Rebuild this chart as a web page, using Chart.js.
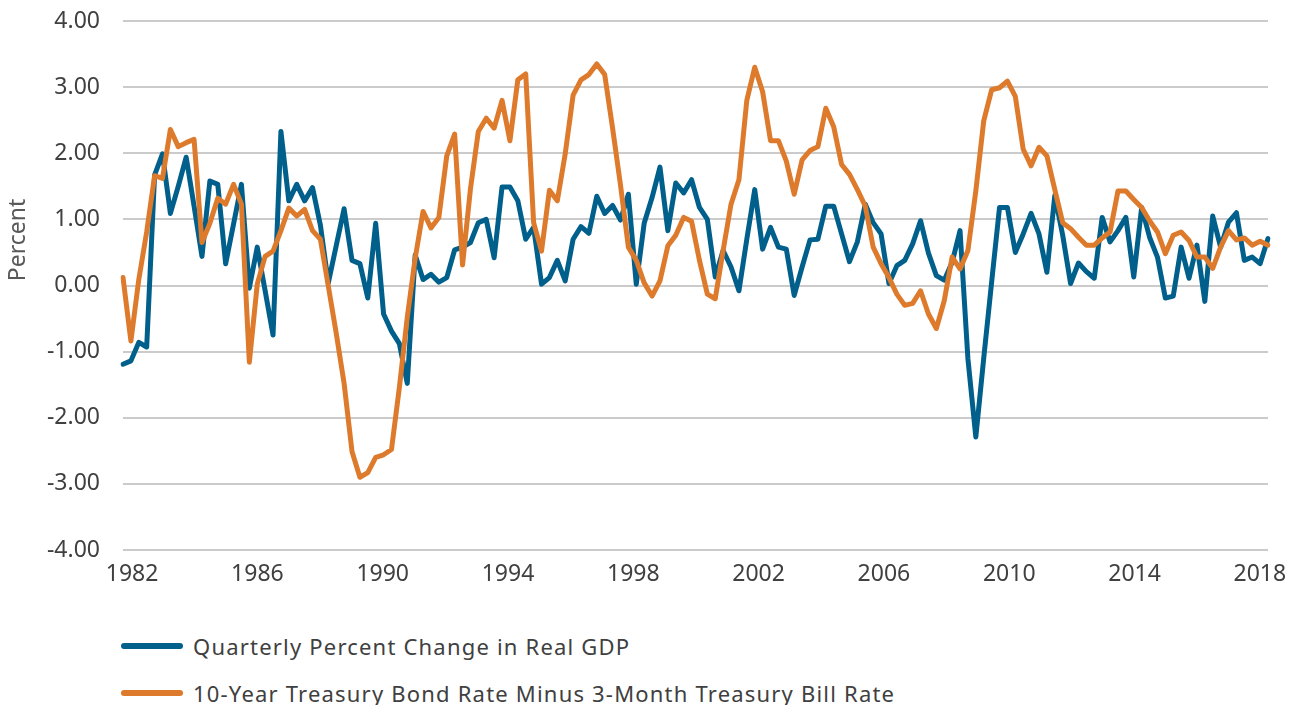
<!DOCTYPE html>
<html>
<head>
<meta charset="utf-8">
<title>Real GDP change vs yield spread</title>
<script src="https://cdn.jsdelivr.net/npm/chart.js@4.4.1/dist/chart.umd.min.js"></script>
<style>
  html, body { margin: 0; padding: 0; background: #ffffff; }
  #wrap { position: relative; width: 1299px; height: 705px; font-family: 'Noto Sans', sans-serif; }
  #chart { position: absolute; left: 0; top: 0; }
  .legend-item { position: absolute; left: 121px; display: flex; align-items: center; color: #404040; font-size: 22px; letter-spacing: 1.2px; line-height: 26px; white-space: nowrap; }
  .legend-item .swatch { width: 62px; height: 6px; border-radius: 3px; margin-right: 10px; }
</style>
</head>
<body>
<div id="wrap">
  <canvas id="chart" width="1299" height="600"></canvas>
  <div id="legend"></div>
</div>
<script>
// Quarterly percent change in real GDP, 1982 Q1 .. 2018 Q2
const gdpChange = [
  -1.19, -1.14, -0.86, -0.93, 1.67, 1.99, 1.09, 1.50, 1.94, 1.20,
  0.44, 1.58, 1.53, 0.33, 0.93, 1.53, -0.04, 0.58, -0.08, -0.75,
  2.33, 1.28, 1.53, 1.28, 1.48, 0.91, 0.04, 0.60, 1.16, 0.38,
  0.33, -0.19, 0.94, -0.43, -0.69, -0.88, -1.48, 0.46, 0.09, 0.17,
  0.05, 0.12, 0.54, 0.58, 0.65, 0.95, 1.00, 0.42, 1.49, 1.49,
  1.28, 0.70, 0.88, 0.02, 0.12, 0.38, 0.07, 0.70, 0.89, 0.79,
  1.35, 1.09, 1.21, 0.99, 1.38, 0.02, 0.94, 1.33, 1.79, 0.83,
  1.55, 1.40, 1.60, 1.18, 1.00, 0.13, 0.53, 0.28, -0.08, 0.70,
  1.45, 0.55, 0.88, 0.58, 0.55, -0.15, 0.28, 0.69, 0.70, 1.20,
  1.20, 0.78, 0.36, 0.66, 1.23, 0.95, 0.78, 0.03, 0.30, 0.38,
  0.63, 0.98, 0.49, 0.15, 0.08, 0.35, 0.83, -1.11, -2.29, -1.10,
  0.05, 1.18, 1.18, 0.50, 0.78, 1.09, 0.78, 0.20, 1.36, 0.76,
  0.03, 0.34, 0.21, 0.11, 1.03, 0.66, 0.83, 1.03, 0.13, 1.18,
  0.73, 0.43, -0.19, -0.16, 0.58, 0.11, 0.61, -0.24, 1.05, 0.58,
  0.96, 1.10, 0.38, 0.43, 0.33, 0.71
];

// 10-year bond rate minus 3-month bill rate
const yieldSpread = [
  0.12, -0.84, 0.09, 0.81, 1.66, 1.62, 2.36, 2.10, 2.16, 2.21,
  0.65, 0.94, 1.32, 1.23, 1.53, 1.23, -1.16, 0.02, 0.44, 0.52,
  0.83, 1.17, 1.05, 1.15, 0.83, 0.70, -0.01, -0.72, -1.48, -2.51,
  -2.90, -2.83, -2.60, -2.56, -2.48, -1.54, -0.48, 0.41, 1.12, 0.87,
  1.03, 1.96, 2.29, 0.31, 1.46, 2.33, 2.53, 2.38, 2.80, 2.19,
  3.11, 3.20, 0.95, 0.52, 1.44, 1.28, 1.99, 2.88, 3.11, 3.19,
  3.35, 3.19, 2.38, 1.52, 0.58, 0.38, 0.04, -0.16, 0.07, 0.60,
  0.76, 1.03, 0.97, 0.38, -0.13, -0.20, 0.53, 1.23, 1.60, 2.80,
  3.30, 2.93, 2.19, 2.19, 1.88, 1.38, 1.90, 2.04, 2.10, 2.68,
  2.40, 1.83, 1.68, 1.45, 1.20, 0.58, 0.33, 0.12, -0.13, -0.30,
  -0.27, -0.08, -0.43, -0.65, -0.23, 0.43, 0.25, 0.53, 1.43, 2.49,
  2.96, 2.99, 3.09, 2.86, 2.06, 1.81, 2.09, 1.96, 1.45, 0.95,
  0.86, 0.73, 0.61, 0.61, 0.72, 0.81, 1.43, 1.43, 1.30, 1.18,
  0.98, 0.81, 0.48, 0.76, 0.81, 0.68, 0.43, 0.43, 0.26, 0.58,
  0.83, 0.69, 0.72, 0.61, 0.67, 0.61
];

const yearLabels = ['1982', '1986', '1990', '1994', '1998', '2002', '2006', '2010', '2014', '2018'];
const seriesNames = [
  'Quarterly Percent Change in Real GDP',
  '10-Year Treasury Bond Rate Minus 3-Month Treasury Bill Rate'
];

const colors = {
  gdp: '#005f8b',
  spread: '#dd7a2b',
  grid: '#cbcbcb',
  text: '#404040',
  title: '#595959'
};

// one category per quarter
const quarters = [];
for (let i = 0; i < gdpChange.length; i++) {
  quarters.push((1982 + Math.floor(i / 4)) + ' Q' + (i % 4 + 1));
}

const fontFamily = "'Noto Sans', sans-serif";

// axis title sits a bit above the middle of the plot, like the original
const sideTitle = {
  id: 'sideTitle',
  afterDraw(chart) {
    const ctx = chart.ctx;
    ctx.save();
    ctx.translate(18, 240);
    ctx.rotate(-Math.PI / 2);
    ctx.fillStyle = colors.title;
    ctx.font = '23px ' + fontFamily;
    ctx.textAlign = 'center';
    ctx.textBaseline = 'middle';
    ctx.fillText('Percent', 0, 0);
    ctx.restore();
  }
};

const chart = new Chart(document.getElementById('chart').getContext('2d'), {
  type: 'line',
  data: {
    labels: quarters,
    datasets: [
      {
        label: seriesNames[0],
        data: gdpChange,
        borderColor: colors.gdp,
        borderWidth: 5,
        pointRadius: 0,
        tension: 0,
        borderCapStyle: 'round',
        borderJoinStyle: 'round',
        order: 2
      },
      {
        label: seriesNames[1],
        data: yieldSpread,
        borderColor: colors.spread,
        borderWidth: 5,
        pointRadius: 0,
        tension: 0,
        borderCapStyle: 'round',
        borderJoinStyle: 'round',
        order: 1
      }
    ]
  },
  options: {
    responsive: false,
    animation: false,
    layout: { padding: { top: 21, right: 31, bottom: 0, left: 0 } },
    plugins: {
      legend: { display: false },
      tooltip: { enabled: false }
    },
    scales: {
      x: {
        display: false,
        offset: false
      },
      // year labels only; their spacing on the original is a little tighter than the quarters
      years: {
        type: 'linear',
        axis: 'x',
        position: 'bottom',
        min: 1981.71,
        max: 2018.26,
        grid: { display: false, drawTicks: false },
        border: { display: false },
        ticks: {
          autoSkip: false,
          maxRotation: 0,
          padding: 11,
          color: colors.text,
          font: { family: fontFamily, size: 23 },
          callback: (value) => String(value)
        },
        afterBuildTicks: (scale) => {
          scale.ticks = yearLabels.map(y => ({ value: Number(y) }));
        },
        afterFit: (scale) => { scale.height = 50; }
      },
      y: {
        min: -4,
        max: 4,
        // invisible tick marks keep the labels away from the plot without padding the top
        grid: { color: colors.grid, lineWidth: 2, drawTicks: true, tickLength: 20, tickColor: 'rgba(0,0,0,0)' },
        border: { display: false },
        ticks: {
          stepSize: 1,
          padding: 3,
          color: colors.text,
          font: { family: fontFamily, size: 23 },
          callback: (value) => value.toFixed(2)
        },
        afterFit: (scale) => { scale.width = 123; }
      }
    }
  },
  plugins: [sideTitle]
});

// legend stacked under the plot, built from the datasets
const legendBox = document.getElementById('legend');
const legendTops = [633, 680];
chart.data.datasets.forEach((ds, i) => {
  const item = document.createElement('div');
  item.className = 'legend-item';
  item.style.top = legendTops[i] + 'px';
  const sw = document.createElement('span');
  sw.className = 'swatch';
  sw.style.background = ds.borderColor;
  const txt = document.createElement('span');
  txt.textContent = ds.label;
  item.appendChild(sw);
  item.appendChild(txt);
  legendBox.appendChild(item);
});
</script>
</body>
</html>
